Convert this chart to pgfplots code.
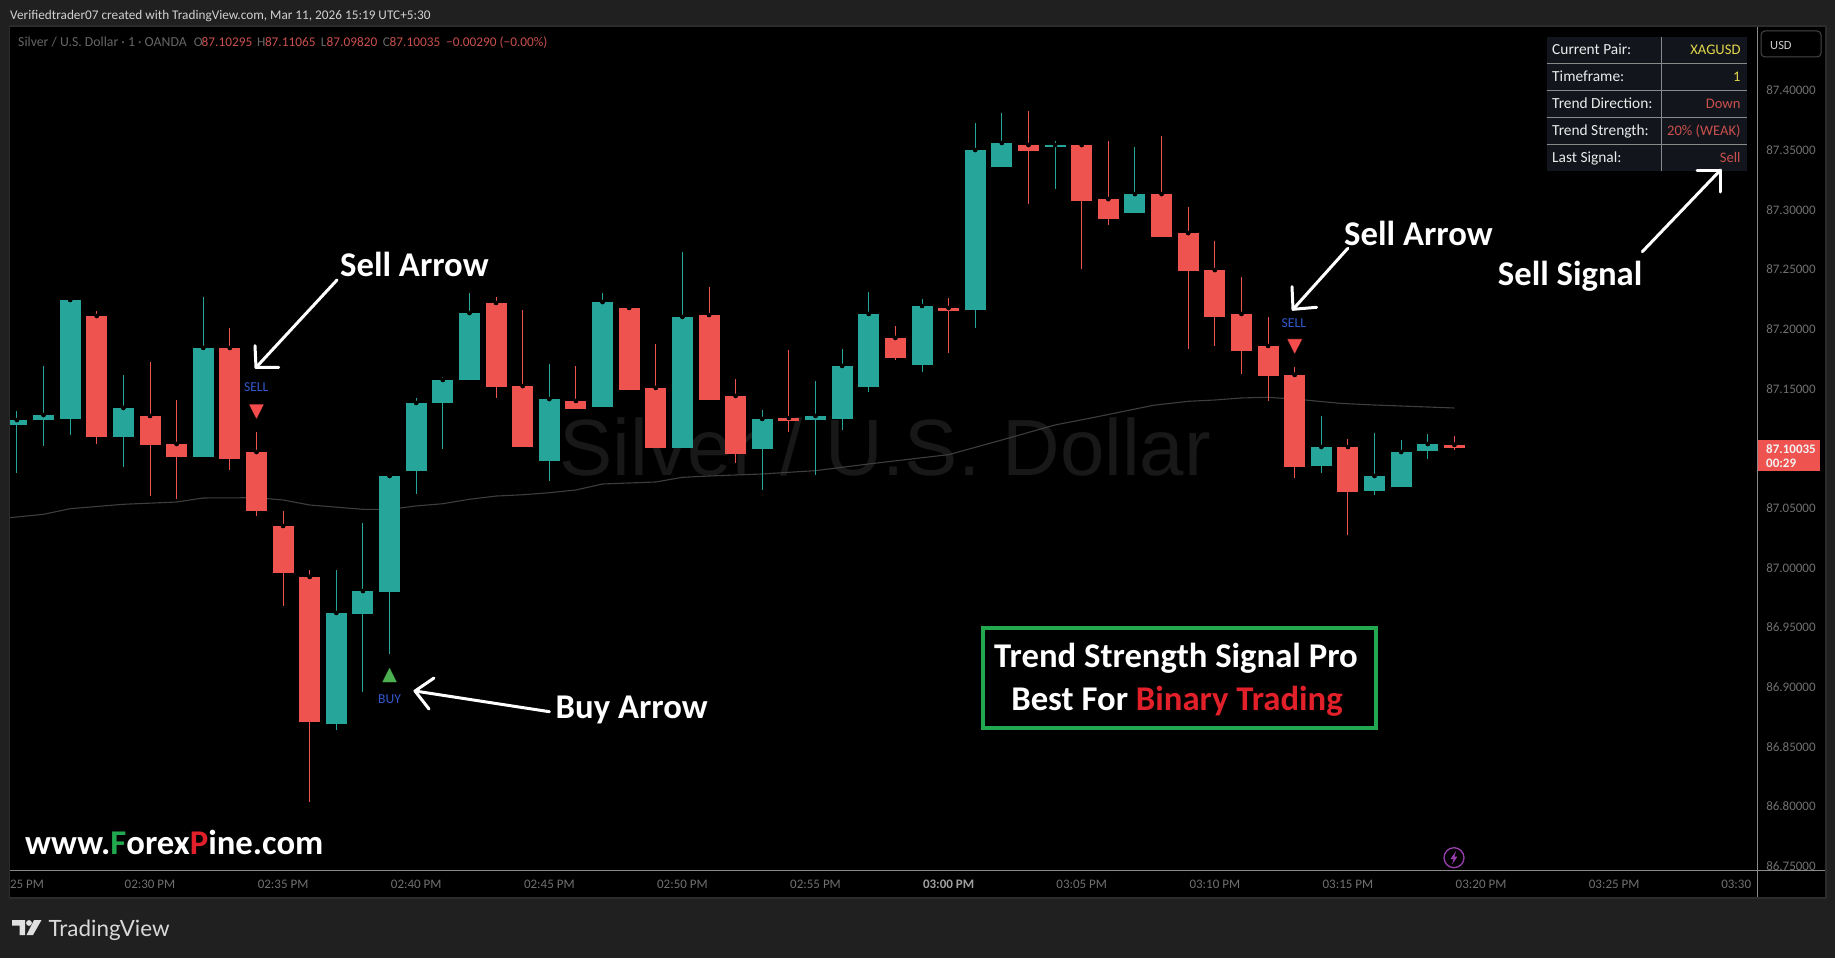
\documentclass[border=0pt]{standalone}
\usepackage{fontspec}
\setmainfont{Carlito}
\newfontfamily\logofont{Lato}
\newfontfamily\wmfont{Liberation Sans}
\usepackage{pgfplots}
\usepackage{pgfplotstable}
\pgfplotsset{compat=1.18}
\newcommand\fs[1]{\fontsize{#1}{#1}\selectfont}
\definecolor{tvteal}{HTML}{26A69A}
\definecolor{tvred}{HTML}{EF5350}
\definecolor{tvpanel}{HTML}{202020}
\definecolor{tvframe}{HTML}{2C2C2C}
\definecolor{tvaxis}{HTML}{8A8A8A}
\definecolor{tvtick}{HTML}{707070}
\definecolor{tvdim}{HTML}{666666}
\definecolor{tvdimred}{HTML}{C9504D}
\definecolor{tvma}{HTML}{3E3E3E}
\definecolor{tvwm}{HTML}{181818}
\definecolor{tvblue}{HTML}{3358CE}
\definecolor{tabbg}{HTML}{12151B}
\definecolor{tabyel}{HTML}{E3D74C}
\definecolor{boxgreen}{HTML}{22A94F}
\definecolor{boxred}{HTML}{E2202A}
\definecolor{buygreen}{HTML}{4CAF50}
\definecolor{sellred}{HTML}{F44C4C}
\definecolor{boltpurple}{HTML}{9C3FB0}

\pgfplotstableread{
t top bot h l
0 87.1237 87.1196 87.1313 87.0793
1 87.1279 87.1240 87.1690 87.1022
2 87.2243 87.1248 87.2251 87.1114
4 87.1338 87.1098 87.1615 87.0846
7 87.1841 87.0930 87.2268 87.0930
12 86.9620 86.8692 86.9980 86.8642
13 86.9804 86.9614 87.0374 86.8961
14 87.0768 86.9799 87.0785 86.9279
15 87.1380 87.0813 87.1422 87.0620
16 87.1573 87.1380 87.1598 87.0997
17 87.2134 87.1575 87.2302 87.1575
20 87.1413 87.0896 87.1707 87.0726
22 87.2226 87.1349 87.2302 87.1349
25 87.2101 87.1005 87.2645 87.1005
28 87.1246 87.0997 87.1321 87.0651
30 87.1271 87.1237 87.1564 87.0779
31 87.1690 87.1246 87.1832 87.1156
32 87.2126 87.1517 87.2310 87.1475
34 87.2193 87.1701 87.2251 87.1642
36 87.3500 87.2159 87.3726 87.2008
37 87.3559 87.3358 87.3810 87.3358
39 87.3542 87.3525 87.3575 87.3173
42 87.3131 87.2975 87.3525 87.2975
49 87.1011 87.0854 87.1271 87.0796
51 87.0768 87.0645 87.1129 87.0611
52 87.0969 87.0679 87.1070 87.0679
53 87.1036 87.0980 87.1120 87.0913
}\upcandles
\pgfplotstableread{
t top bot h l
3 87.2109 87.1098 87.2151 87.1039
5 87.1271 87.1030 87.1723 87.0603
6 87.1036 87.0930 87.1405 87.0575
8 87.1841 87.0911 87.2008 87.0821
9 87.0969 87.0475 87.1137 87.0435
10 87.0349 86.9958 87.0475 86.9679
11 86.9922 86.8709 86.9980 86.8039
18 87.2218 87.1517 87.2268 87.1424
19 87.1522 87.1014 87.2159 87.1014
21 87.1397 87.1332 87.1690 87.1332
23 87.2176 87.1489 87.2176 87.1489
24 87.1506 87.1005 87.1874 87.1005
26 87.2117 87.1408 87.2352 87.1408
27 87.1439 87.0955 87.1581 87.0880
29 87.1254 87.1229 87.1824 87.1139
33 87.1925 87.1760 87.2025 87.1743
35 87.2176 87.2151 87.2260 87.1801
38 87.3542 87.3492 87.3827 87.3050
40 87.3542 87.3075 87.3559 87.2505
41 87.3089 87.2924 87.3575 87.2874
43 87.3131 87.2773 87.3617 87.2773
44 87.2804 87.2486 87.3022 87.1835
45 87.2494 87.2103 87.2737 87.1858
46 87.2126 87.1818 87.2436 87.1625
47 87.1858 87.1609 87.2101 87.1399
48 87.1615 87.0846 87.1682 87.0751
50 87.1011 87.0637 87.1078 87.0276
54 87.10295 87.10035 87.11065 87.09820
}\downcandles
\pgfplotstableread{
t p
-0.26 87.0419
1 87.0447
2 87.0494
4 87.0531
6 87.0550
7 87.0584
9 87.0586
10 87.0567
11 87.0525
13 87.0489
14 87.0489
15 87.0517
16 87.0536
17 87.0573
18 87.0600
19 87.0611
20 87.0628
21 87.0651
22 87.0701
24 87.0718
25 87.0757
26 87.0768
28 87.0785
30 87.0813
32 87.0869
33.5 87.0908
35 87.0947
37 87.1070
39 87.1196
40.3 87.1252
42.7 87.1361
44 87.1394
45 87.1405
46 87.1422
47 87.1428
48.4 87.1405
49.7 87.1377
51 87.1363
54 87.1338
}\matable

\pgfplotsset{
  wicks/.style={only marks, mark=none, forget plot,
    error bars/.cd, y dir=both, y explicit, error mark=none,
    error bar style={draw=#1, line width=1pt, line cap=butt}},
  bodies/.style={only marks, mark=none, forget plot,
    error bars/.cd, y dir=both, y explicit, error mark=none,
    error bar style={draw=#1, line width=21pt, line cap=butt}},
}

\begin{document}
\begin{tikzpicture}[x=1pt,y=-1pt]
\useasboundingbox (0,0) rectangle (1835,958);
% frame
\fill[tvpanel] (0,0) rectangle (1835,958);
\draw[tvframe,line width=2pt] (9.5,26.5) rectangle (1825.5,897.5);
\fill[black] (10,27) rectangle (1825,897);
% watermark
\node[anchor=base west,inner sep=0pt,text=tvwm,font=\wmfont\fs{79.8}] at (559,475) {Silver / U.S. Dollar};

\coordinate (axorigin) at (10,870);
\begin{axis}[
  at={(axorigin)}, anchor=south west,
  scale only axis, width=1747pt, height=843pt,
  xmin=-0.2592, xmax=65.368, ymin=86.7466, ymax=87.4531,
  axis x line*=bottom, axis y line*=right,
  axis line style={-,draw=tvaxis,line width=1pt},
  major tick length=0pt, tick style={draw=none},
  xtick={0,5,...,65},
  xticklabels={\makebox[0pt][l]{\hspace{-6.9pt}25 PM},02:30 PM,02:35 PM,02:40 PM,02:45 PM,02:50 PM,02:55 PM,{\textcolor[HTML]{A0A0A0}{\textbf{03:00 PM}}},03:05 PM,03:10 PM,03:15 PM,03:20 PM,03:25 PM,\makebox[0pt][l]{\hspace{-26pt}03:30}},
  ytick={86.75,86.80,86.85,86.90,86.95,87.00,87.05,87.10,87.15,87.20,87.25,87.30,87.35,87.40},
  scaled y ticks=false,
  /pgf/number format/fixed,
  /pgf/number format/fixed zerofill,
  /pgf/number format/precision=5,
  /pgf/number format/assume math mode=true,
  tick label style={font=\fs{13},text=tvtick},
  x tick label style={inner sep=0pt,yshift=-9.5pt},
  y tick label style={inner sep=0pt,xshift=9pt},
  clip=true,
]
\addplot[color=tvma,line width=1.1pt,mark=none,forget plot] table[x=t,y=p] {\matable};
\addplot[wicks=tvteal] table[x=t,y=top,y error plus expr=\thisrow{h}-\thisrow{top},y error minus expr=\thisrow{top}-\thisrow{l}] {\upcandles};
\addplot[wicks=tvred] table[x=t,y=top,y error plus expr=\thisrow{h}-\thisrow{top},y error minus expr=\thisrow{top}-\thisrow{l}] {\downcandles};
\addplot[bodies=tvteal] table[x=t,y=top,y error plus expr=0,y error minus expr=\thisrow{top}-\thisrow{bot}] {\upcandles};
\addplot[bodies=tvred] table[x=t,y=top,y error plus expr=0,y error minus expr=\thisrow{top}-\thisrow{bot}] {\downcandles};
% signal markers
\addplot[only marks,mark=triangle*,mark size=9pt,mark options={draw=none,fill=sellred,rotate=180,yscale=1.15},forget plot] coordinates {(9,87.1327) (48,87.1873)};
\addplot[only marks,mark=triangle*,mark size=9pt,mark options={draw=none,fill=buygreen,yscale=1.15},forget plot] coordinates {(14,86.9080)};
\node[text=tvblue,font=\fs{13.6}] at (axis cs:8.99,87.1511) {SELL};
\node[text=tvblue,font=\fs{13.6}] at (axis cs:47.97,87.2051) {SELL};
\node[text=tvblue,font=\fs{13.6}] at (axis cs:14,86.8895) {BUY};
\end{axis}

% extended axis lines
\draw[tvaxis,line width=1pt] (1757,870) -- (1825,870);
\draw[tvaxis,line width=1pt] (1757,870) -- (1757,897);
% header
\node[anchor=base west,inner sep=0pt,text=black!18!white,font=\fs{13.25}] at (10,20) {Verifiedtrader07 created with TradingView.com, Mar 11, 2026 15:19 UTC+5:30};
% legend line
\begin{scope}[every node/.style={anchor=base west,inner sep=0pt,font=\fs{13.3}}]
\node[text=tvdim,font=\fs{13.75}] at (18,47) {Silver / U.S. Dollar · 1 · OANDA};
\node[text=tvdim] at (193.7,47) {O};
\node[text=tvdimred] at (201.5,47) {87.10295};
\node[text=tvdim] at (257,47) {H};
\node[text=tvdimred] at (264.8,47) {87.11065};
\node[text=tvdim] at (320.6,47) {L};
\node[text=tvdimred] at (326.5,47) {87.09820};
\node[text=tvdim] at (382.7,47) {C};
\node[text=tvdimred] at (389.5,47) {87.10035};
\node[text=tvdimred] at (446,47) {−0.00290 (−0.00\%)};
\end{scope}
% USD
\draw[black!72!white,line width=1pt,rounded corners=4pt,fill=black] (1761,31) rectangle (1821,57);
\node[anchor=base west,inner sep=0pt,text=black!20!white,font=\fs{12.5}] at (1770,49) {USD};
% last price tag
\fill[tvred] (1757.5,440) rectangle (1820,470.7);
\node[anchor=base west,inner sep=0pt,text=black!5!white,font=\fs{13}\bfseries] at (1766,453) {87.10035};
\node[anchor=base west,inner sep=0pt,text=black!5!white,font=\fs{13}\bfseries] at (1766,467) {00:29};
% info table
\fill[tabbg] (1546.7,37) rectangle (1747,171);
\foreach \yy in {63.3,90.3,117.3,144.3} \draw[tvaxis,line width=1pt] (1546.7,\yy) -- (1747,\yy);
\draw[tvaxis,line width=1pt] (1661.3,37) -- (1661.3,171);
\begin{scope}[every node/.style={inner sep=0pt,font=\fs{15.4}}]
\node[anchor=base west,text=black!8!white] at (1552,54.7) {Current Pair:};
\node[anchor=base west,text=black!8!white] at (1552,81.7) {Timeframe:};
\node[anchor=base west,text=black!8!white] at (1552,108.3) {Trend Direction:};
\node[anchor=base west,text=black!8!white] at (1552,135.3) {Trend Strength:};
\node[anchor=base west,text=black!8!white] at (1552,162.3) {Last Signal:};
\node[anchor=base east,text=tabyel,font=\fs{14.6}] at (1740.7,54.7) {XAGUSD};
\node[anchor=base east,text=tabyel,font=\fs{14.6}] at (1740.7,81.7) {1};
\node[anchor=base east,text=tvdimred,font=\fs{14.6}] at (1740.7,108.3) {Down};
\node[anchor=base east,text=tvdimred,font=\fs{14.6}] at (1740.7,135.3) {20\% (WEAK)};
\node[anchor=base east,text=tvdimred,font=\fs{14.6}] at (1740.7,162.3) {Sell};
\end{scope}
% annotation arrows
\begin{scope}[white,line width=3pt,line cap=round,line join=round]
\draw (337,280) -- (256,367.5);
\draw (255,345.7) -- (256,367.5) -- (278.7,367.3);
\draw (1347.8,248.3) -- (1293,309.3);
\draw (1292,286.7) -- (1293,309.3) -- (1316.6,307.3);
\draw (1642.3,251.7) -- (1720.5,170);
\draw (1697,170) -- (1720.5,170) -- (1720.5,192);
\draw (549.4,711.7) -- (415,691);
\draw (434,678) -- (415,691) -- (429,709);
\end{scope}
\begin{scope}[every node/.style={anchor=base west,inner sep=0pt,text=white,font=\fs{34.7}\bfseries}]
\node at (340,276) {Sell Arrow};
\node at (1344,245.3) {Sell Arrow};
\node at (1497.7,285.3) {Sell Signal};
\node at (555.5,718.7) {Buy Arrow};
\node at (25,854) {www.\textcolor{boxgreen}{F}orex\textcolor{boxred}{P}ine.com};
\end{scope}
% promo box
\draw[boxgreen,line width=4pt] (983,628) rectangle (1376,728);
\node[anchor=base,inner sep=0pt,text=white,font=\fs{34.7}\bfseries] at (1176,667) {Trend Strength Signal Pro};
\node[anchor=base,inner sep=0pt,text=white,font=\fs{34.7}\bfseries] at (1177,710) {Best For \textcolor{boxred}{Binary Trading}};
% lightning
\draw[boltpurple,line width=1.3pt] (1454,857.7) circle (10pt);
\fill[boltpurple] (1456,851) -- (1450.5,859) -- (1453.5,859) -- (1452,864.5) -- (1457.5,856.5) -- (1454.5,856.5) -- cycle;
% TradingView logo
\fill[black!12!white] (12,920) -- (25,920) -- (25,935) -- (19.5,935) -- (19.5,925.5) -- (12,925.5) -- cycle;
\fill[black!12!white] (29,923) circle (2.9pt);
\fill[black!12!white] (34,920) -- (41.5,920) -- (33,935) -- (26.5,935) -- cycle;
\node[anchor=base west,inner sep=0pt,text=black!15!white,font=\logofont\fs{22.4}] at (48.5,936) {TradingView};
\end{tikzpicture}
\end{document}
